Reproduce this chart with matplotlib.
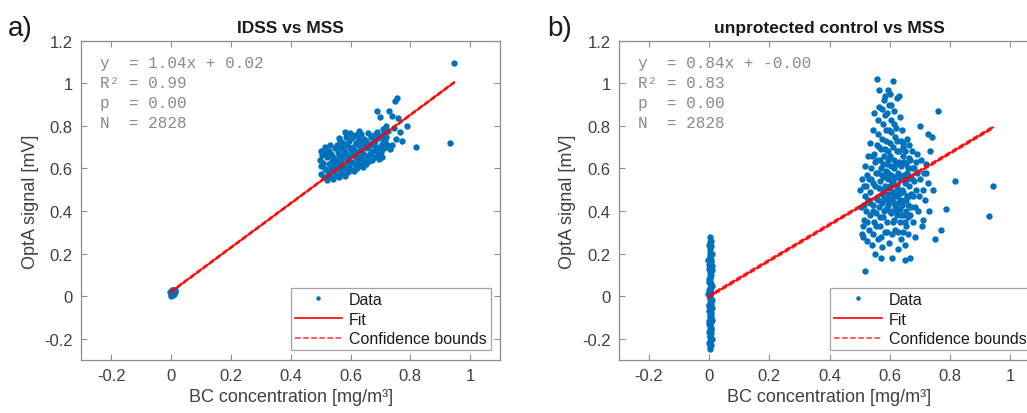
import numpy as np
import matplotlib
matplotlib.use("Agg")
import matplotlib.pyplot as plt

plt.rcParams["font.family"] = ["Liberation Sans", "DejaVu Sans"]

# ---- data (BC concentration vs OptA signal) ----
# panel a) IDSS vs MSS
idss_zero = [(0.000, 0.010), (0.003, 0.015), (0.006, 0.012), (0.009, 0.020), (0.012, 0.025),
             (0.004, 0.022), (0.008, 0.005), (0.014, 0.018), (0.001, 0.003), (0.011, 0.030),
             (0.015, 0.028), (-0.002, 0.018), (0.007, 0.028), (0.010, 0.012), (0.005, 0.030)]
idss_cloud = [(0.500, 0.575), (0.503, 0.612), (0.498, 0.641), (0.505, 0.662), (0.502, 0.684),
              (0.511, 0.558), (0.514, 0.596), (0.509, 0.628), (0.516, 0.671), (0.515, 0.700),
              (0.522, 0.548), (0.524, 0.583), (0.527, 0.619), (0.521, 0.652), (0.529, 0.684),
              (0.533, 0.566), (0.536, 0.601), (0.538, 0.637), (0.534, 0.668), (0.530, 0.710),
              (0.542, 0.552), (0.545, 0.589), (0.547, 0.622), (0.543, 0.656), (0.549, 0.694),
              (0.553, 0.571), (0.556, 0.607), (0.551, 0.641), (0.558, 0.676), (0.555, 0.712),
              (0.562, 0.559), (0.565, 0.594), (0.567, 0.628), (0.561, 0.663), (0.569, 0.702),
              (0.566, 0.731), (0.560, 0.745), (0.573, 0.578), (0.576, 0.613), (0.571, 0.649),
              (0.578, 0.686), (0.575, 0.721), (0.580, 0.770), (0.583, 0.566), (0.585, 0.601),
              (0.588, 0.637), (0.581, 0.672), (0.587, 0.709), (0.584, 0.748), (0.593, 0.585),
              (0.596, 0.623), (0.591, 0.658), (0.598, 0.694), (0.594, 0.731), (0.597, 0.765),
              (0.603, 0.596), (0.606, 0.632), (0.601, 0.668), (0.608, 0.703), (0.604, 0.741),
              (0.612, 0.588), (0.615, 0.619), (0.618, 0.654), (0.611, 0.689), (0.617, 0.722),
              (0.614, 0.758), (0.623, 0.604), (0.626, 0.641), (0.621, 0.677), (0.628, 0.712),
              (0.624, 0.749), (0.627, 0.778), (0.633, 0.615), (0.636, 0.652), (0.631, 0.688),
              (0.638, 0.726), (0.635, 0.763), (0.643, 0.608), (0.646, 0.637), (0.641, 0.671),
              (0.648, 0.704), (0.644, 0.739), (0.652, 0.623), (0.655, 0.659), (0.658, 0.694),
              (0.651, 0.731), (0.657, 0.768), (0.663, 0.633), (0.666, 0.668), (0.661, 0.712),
              (0.668, 0.746), (0.673, 0.642), (0.676, 0.681), (0.671, 0.719), (0.678, 0.757),
              (0.683, 0.652), (0.686, 0.691), (0.681, 0.729), (0.688, 0.772), (0.693, 0.667),
              (0.696, 0.703), (0.691, 0.742), (0.695, 0.645), (0.703, 0.678), (0.706, 0.716),
              (0.701, 0.754), (0.708, 0.785), (0.705, 0.655), (0.713, 0.694), (0.716, 0.731),
              (0.711, 0.768), (0.721, 0.712), (0.719, 0.749), (0.724, 0.778),
              (0.560, 0.620), (0.590, 0.640), (0.620, 0.660), (0.650, 0.700), (0.680, 0.710),
              (0.710, 0.740), (0.540, 0.600), (0.600, 0.680), (0.630, 0.730), (0.570, 0.660)]
idss_outliers = [(0.757, 0.930), (0.750, 0.915), (0.690, 0.870), (0.700, 0.840), (0.730, 0.870),
                 (0.740, 0.845), (0.760, 0.835), (0.790, 0.800), (0.753, 0.740), (0.773, 0.730),
                 (0.740, 0.710), (0.733, 0.690), (0.820, 0.700), (0.933, 0.720), (0.947, 1.097),
                 (0.720, 0.800), (0.745, 0.790), (0.765, 0.770)]

# panel b) unprotected control vs MSS
ctrl_zero = [(0.002, 0.28), (0.006, 0.26), (-0.001, 0.24), (0.004, 0.22), (0.008, 0.20),
             (0.001, 0.19), (-0.003, 0.17), (0.005, 0.16), (0.009, 0.14), (0.000, 0.13),
             (0.003, 0.11), (0.007, 0.10), (-0.002, 0.08), (0.004, 0.07), (0.010, 0.05),
             (0.001, 0.04), (0.006, 0.02), (-0.003, 0.01), (0.003, -0.01), (0.008, -0.02),
             (0.000, -0.04), (0.005, -0.05), (-0.002, -0.07), (0.007, -0.08), (0.002, -0.10),
             (0.009, -0.11), (-0.001, -0.13), (0.004, -0.14), (0.006, -0.16), (0.000, -0.17),
             (0.003, -0.19), (0.008, -0.20), (-0.002, -0.22), (0.005, -0.23), (0.002, -0.25),
             (0.001, 0.15), (0.006, 0.12), (0.003, 0.06), (0.002, -0.03), (0.005, -0.12),
             (0.001, -0.09), (0.004, 0.00), (0.007, 0.17), (0.002, 0.09), (0.006, -0.15),
             (-0.001, 0.03), (0.004, 0.18), (0.003, -0.21),
             (0.001, 0.255), (0.005, 0.235), (0.002, 0.205), (-0.002, 0.145), (0.008, 0.125),
             (0.003, 0.085), (0.006, 0.055), (-0.001, 0.065), (0.004, 0.035), (0.007, 0.015),
             (0.001, -0.015), (0.005, -0.035), (-0.002, -0.045), (0.008, -0.055), (0.003, -0.065),
             (0.006, -0.095), (0.000, -0.115), (0.004, -0.125), (0.002, -0.155), (0.007, -0.175),
             (0.001, -0.185), (0.005, -0.205), (0.002, -0.235)]
ctrl_cloud = [(0.502, 0.50), (0.505, 0.42), (0.508, 0.55), (0.511, 0.28), (0.514, 0.36),
              (0.517, 0.47), (0.519, 0.61), (0.512, 0.33), (0.516, 0.52), (0.521, 0.40),
              (0.523, 0.26), (0.525, 0.57), (0.527, 0.45), (0.529, 0.66), (0.507, 0.29),
              (0.532, 0.31), (0.534, 0.49), (0.536, 0.38), (0.538, 0.60), (0.533, 0.72),
              (0.541, 0.24), (0.543, 0.43), (0.545, 0.53), (0.547, 0.67), (0.549, 0.35),
              (0.544, 0.78), (0.548, 0.86), (0.552, 0.20), (0.554, 0.46), (0.556, 0.58),
              (0.553, 0.39), (0.557, 0.71), (0.551, 0.63), (0.546, 0.29), (0.539, 0.55),
              (0.561, 0.27), (0.563, 0.51), (0.565, 0.42), (0.567, 0.64), (0.562, 0.76),
              (0.569, 0.33), (0.564, 0.89), (0.571, 0.18), (0.573, 0.48), (0.575, 0.57),
              (0.577, 0.37), (0.572, 0.69), (0.579, 0.81), (0.574, 0.44), (0.576, 0.23),
              (0.578, 0.62), (0.568, 0.54), (0.566, 0.97), (0.557, 1.02), (0.583, 0.52),
              (0.585, 0.30), (0.587, 0.41), (0.589, 0.73), (0.582, 0.66), (0.586, 0.94),
              (0.588, 0.59), (0.581, 0.46), (0.584, 0.85), (0.591, 0.35), (0.593, 0.55),
              (0.595, 0.48), (0.597, 0.78), (0.592, 0.62), (0.599, 0.25), (0.594, 0.43),
              (0.596, 0.68), (0.598, 0.90), (0.601, 0.52), (0.603, 0.39), (0.605, 0.61),
              (0.607, 0.45), (0.602, 0.72), (0.609, 0.29), (0.604, 0.83), (0.606, 0.57),
              (0.608, 0.18), (0.600, 0.95), (0.611, 0.49), (0.613, 0.64), (0.615, 0.36),
              (0.617, 0.75), (0.612, 0.54), (0.619, 0.42), (0.614, 0.87), (0.616, 0.60),
              (0.618, 0.31), (0.610, 1.01), (0.621, 0.47), (0.623, 0.68), (0.625, 0.38),
              (0.627, 0.58), (0.622, 0.79), (0.629, 0.22), (0.624, 0.52), (0.626, 0.93),
              (0.628, 0.44), (0.631, 0.63), (0.633, 0.35), (0.635, 0.55), (0.637, 0.73),
              (0.632, 0.48), (0.639, 0.27), (0.634, 0.84), (0.636, 0.41), (0.638, 0.61),
              (0.630, 0.94), (0.641, 0.50), (0.643, 0.66), (0.645, 0.38), (0.642, 0.78),
              (0.647, 0.57), (0.644, 0.30), (0.649, 0.45), (0.646, 0.70), (0.651, 0.53),
              (0.653, 0.40), (0.655, 0.62), (0.652, 0.24), (0.657, 0.74), (0.659, 0.47),
              (0.654, 0.33), (0.656, 0.58), (0.661, 0.43), (0.663, 0.65), (0.665, 0.52),
              (0.662, 0.29), (0.667, 0.56), (0.669, 0.38), (0.664, 0.71), (0.666, 0.18),
              (0.672, 0.48), (0.675, 0.60), (0.678, 0.35), (0.673, 0.68), (0.681, 0.54),
              (0.684, 0.42), (0.686, 0.63), (0.683, 0.28), (0.689, 0.50), (0.692, 0.58),
              (0.695, 0.40), (0.691, 0.67), (0.698, 0.47), (0.702, 0.55), (0.705, 0.64),
              (0.708, 0.33), (0.712, 0.50), (0.715, 0.58), (0.718, 0.45), (0.722, 0.62),
              (0.726, 0.53), (0.731, 0.40), (0.735, 0.68), (0.728, 0.76),
              (0.535, 0.44), (0.540, 0.66), (0.545, 0.40), (0.550, 0.52), (0.555, 0.33),
              (0.558, 0.64), (0.560, 0.45), (0.562, 0.58), (0.565, 0.70), (0.568, 0.37),
              (0.570, 0.60), (0.572, 0.28), (0.575, 0.74), (0.578, 0.50), (0.580, 0.40),
              (0.582, 0.56), (0.585, 0.69), (0.587, 0.78), (0.590, 0.45), (0.592, 0.30),
              (0.594, 0.58), (0.596, 0.64), (0.598, 0.51), (0.600, 0.40), (0.602, 0.66),
              (0.604, 0.47), (0.606, 0.77), (0.608, 0.53), (0.610, 0.35), (0.612, 0.70),
              (0.614, 0.44), (0.616, 0.81), (0.618, 0.56), (0.620, 0.62), (0.622, 0.40),
              (0.624, 0.73), (0.626, 0.50), (0.628, 0.30), (0.630, 0.57), (0.632, 0.68),
              (0.634, 0.45), (0.636, 0.62), (0.638, 0.38), (0.640, 0.55), (0.642, 0.43),
              (0.644, 0.72), (0.646, 0.49), (0.648, 0.63), (0.650, 0.35), (0.652, 0.68),
              (0.655, 0.45), (0.658, 0.55), (0.660, 0.37), (0.662, 0.60), (0.665, 0.47),
              (0.668, 0.64), (0.670, 0.42), (0.674, 0.55), (0.678, 0.47), (0.682, 0.60),
              (0.530, 0.55), (0.525, 0.35), (0.520, 0.52), (0.515, 0.43), (0.560, 0.83),
              (0.575, 0.88), (0.590, 0.86), (0.605, 0.90), (0.580, 0.92), (0.595, 0.97)]
ctrl_outliers = [(0.817, 0.54), (0.944, 0.52), (0.930, 0.375), (0.787, 0.41), (0.770, 0.31),
                 (0.750, 0.27), (0.760, 0.87), (0.518, 0.12), (0.650, 0.17), (0.700, 0.80),
                 (0.740, 0.75), (0.710, 0.36), (0.720, 0.58), (0.745, 0.50)]

# fit results shown in the text boxes
titles = ["IDSS vs MSS", "unprotected control vs MSS"]
panel_tags = ["a)", "b)"]
slopes = [1.04, 0.84]
intercepts = [0.02, -0.00]
r2_values = [0.99, 0.83]
p_values = [0.00, 0.00]
n_values = [2828, 2828]
conf_halfwidth = [0.004, 0.006]

BLUE = "#0072BD"
RED = "#FF0000"
GRID_GREY = "#8c8c8c"
TEXT_GREY = "#404040"

fig = plt.figure(figsize=(10.27, 4.14), dpi=100)
axes_pos = [[0.079, 0.128, 0.408, 0.771], [0.6027, 0.128, 0.41, 0.771]]
tag_x = [0.008, 0.533]
panels = [idss_zero + idss_cloud + idss_outliers, ctrl_zero + ctrl_cloud + ctrl_outliers]

for i, pts in enumerate(panels):
    ax = fig.add_axes(axes_pos[i])
    x = np.array([p[0] for p in pts])
    y = np.array([p[1] for p in pts])

    ax.plot(x, y, "o", ms=4.6, mew=0, color=BLUE, label="Data", zorder=2)

    xf = np.array([x.min(), x.max()])
    yf = slopes[i] * xf + intercepts[i]
    ax.plot(xf, yf, "-", color=RED, lw=1.2, label="Fit", zorder=3)
    ax.plot(xf, yf + conf_halfwidth[i], "--", color=RED, lw=1.1, alpha=0.8,
            label="Confidence bounds", zorder=3)
    ax.plot(xf, yf - conf_halfwidth[i], "--", color=RED, lw=1.1, alpha=0.8, zorder=3)

    ax.set_xlim(-0.3, 1.1)
    ax.set_ylim(-0.3, 1.2)
    ax.set_xticks([-0.2, 0, 0.2, 0.4, 0.6, 0.8, 1])
    ax.set_xticklabels(["-0.2", "0", "0.2", "0.4", "0.6", "0.8", "1"])
    ax.set_yticks([-0.2, 0, 0.2, 0.4, 0.6, 0.8, 1, 1.2])
    ax.set_yticklabels(["-0.2", "0", "0.2", "0.4", "0.6", "0.8", "1", "1.2"])
    ax.tick_params(direction="in", top=True, right=True, length=4, width=0.8,
                   color=GRID_GREY, labelcolor=TEXT_GREY, labelsize=12, pad=6)
    for s in ax.spines.values():
        s.set_color(GRID_GREY)
        s.set_linewidth(0.9)

    ax.set_xlabel("BC concentration [mg/m³]", fontsize=13, color=TEXT_GREY, labelpad=3)
    ax.set_ylabel("OptA signal [mV]", fontsize=13, color=TEXT_GREY, labelpad=4)
    ax.set_title(titles[i], fontsize=12.5, fontweight="bold", color="#1a1a1a", pad=6)

    stats = (f"y  = {slopes[i]:.2f}x + {intercepts[i]:.2f}\n"
             f"R² = {r2_values[i]:.2f}\n"
             f"p  = {p_values[i]:.2f}\n"
             f"N  = {n_values[i]}")
    ax.text(0.045, 0.955, stats, transform=ax.transAxes, va="top", ha="left",
            family="Liberation Mono", fontsize=11.5, color="#8a8a8a", linespacing=1.4)

    leg = ax.legend(loc="lower right", fontsize=11.5, frameon=True, fancybox=False,
                    edgecolor=GRID_GREY, handlelength=3.0, borderpad=0.25,
                    labelspacing=0.3, handletextpad=0.4, borderaxespad=0.6,
                    markerscale=0.7)
    leg.get_frame().set_linewidth(0.9)
    for t in leg.get_texts():
        t.set_color("#1a1a1a")

    fig.text(tag_x[i], 0.93, panel_tags[i], fontsize=20, color="#1a1a1a", va="center")

plt.savefig("out.png", dpi=100)
